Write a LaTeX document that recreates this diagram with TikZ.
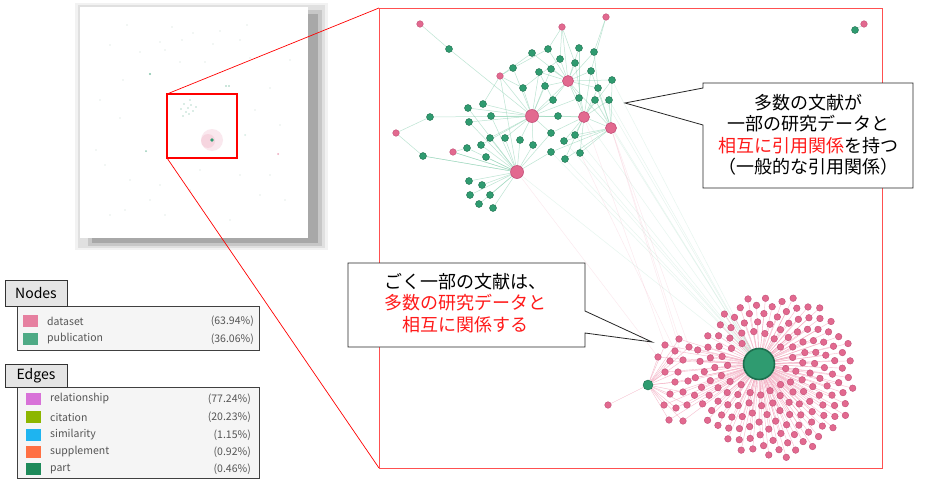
\documentclass[tikz,border=0pt]{standalone}
\usepackage{fontspec}
\setmainfont{Noto Sans CJK JP}
\definecolor{pk}{HTML}{E2698F}
\definecolor{pkd}{HTML}{C24F78}
\definecolor{gr}{HTML}{2F9B70}
\definecolor{grd}{HTML}{1E6E4E}
\definecolor{pke}{HTML}{F2A0B8}
\definecolor{gre}{HTML}{86CFAE}
\definecolor{callred}{HTML}{FF1A1A}
\definecolor{framered}{HTML}{FF5050}
\definecolor{legtext}{HTML}{555555}
\definecolor{relc}{HTML}{D872D8}
\definecolor{citc}{HTML}{8DB600}
\definecolor{simc}{HTML}{1EB4F0}
\definecolor{supc}{HTML}{FF7043}
\definecolor{partc}{HTML}{1E8A5A}
\pgfdeclarelayer{bg}
\pgfdeclarelayer{edges}
\pgfsetlayers{bg,edges,main}
\begin{document}
\begin{tikzpicture}[x=1pt,y=-1pt,
  gdot/.style={circle,fill=gr,draw=grd,line width=0.4,inner sep=0,minimum size=7},
  pdot/.style={circle,fill=pk,draw=pkd,line width=0.4,inner sep=0,minimum size=6.6},
  pbig/.style={circle,fill=pk,draw=pkd,line width=0.6,inner sep=0,minimum size=12},
  gedge/.style={draw=gre,line width=0.5,opacity=0.55},
  gfaint/.style={draw=gre,line width=0.5,opacity=0.2},
  pedge/.style={draw=pke,line width=0.4,opacity=0.7},
  tdot/.style={circle,fill=gr!50!gray,opacity=0.15,inner sep=0,minimum size=1.6},
  legtab/.style={draw=black!80,fill=black!10,line width=0.6,inner sep=0,minimum width=62,font=\fontsize{14}{16}\selectfont},
  legpanel/.style={draw=black!75,fill=black!4,line width=0.7},
  legsq/.style={inner sep=0,minimum width=15,minimum height=12},
  legitem/.style={anchor=west,inner sep=0,text=legtext,font=\fontsize{10.5}{12}\selectfont},
  legpct/.style={anchor=east,inner sep=0,text=legtext,font=\fontsize{10.5}{12}\selectfont},
  callout/.style={draw=black!85,fill=white,line width=0.8,line join=miter},
  ctext/.style={align=center,inner sep=0,font=\fontsize{18}{21.5}\selectfont}
]
\useasboundingbox (0,0) rectangle (929,479);
\begin{pgfonlayer}{bg}
\fill[white] (0,0) rectangle (929,479);
\end{pgfonlayer}

% ---------- thumbnail ----------
\fill[black!5] (75,3) rectangle (328,250);
\fill[black!12] (78,5) rectangle (325,248);
\fill[black!22] (88,10) rectangle (322,246);
\fill[black!34] (92,14) rectangle (318,243);
\fill[white] (80,7) rectangle (308,238);
\foreach \x/\y in {127/25,172/27,193/33,220/31,247/25,160/42,182/40,213/44,240/40,110/45,140/52,165/50,205/62,250/58,123/80,180/62,270/88,100/100,120/118,255/110,280/125,96/150,105/165,130/180,160/185,200/170,240/175,270/175,150/200,190/190,125/210,260/195,165/215,230/220,290/60,285/200,110/215}
  \node[tdot] at (\x,\y) {};
\fill[pk,opacity=0.15] (212,140) circle (11);
\fill[pk,opacity=0.15] (208,141) circle (7);
\foreach \x/\y in {184/104,188/108,191/105,186/112,193/111,181/109,190/100,196/107,183/116,189/114}
  \fill[gr,opacity=0.35] (\x,\y) circle (0.8);
\fill[gr] (212,140) circle (1.8);
\fill[gr,opacity=0.6] (150,74) circle (1.1);
\fill[gr,opacity=0.5] (226,86) circle (0.9);
\fill[gr,opacity=0.5] (229,86) circle (0.9);
\fill[gr,opacity=0.5] (146,151) circle (1);
\fill[pk,opacity=0.6] (278,154) circle (1);
\fill[gr,opacity=0.2] (245,135) circle (1);
\draw[red,line width=1.2] (167,94) rectangle (237,158);
\coordinate (zt) at (167,94);
\coordinate (zb) at (167,158);

% ---------- big frame ----------
\coordinate (ft) at (379,8);
\coordinate (fb) at (379,468);
\draw[red,line width=0.7] (zt) -- (ft);
\draw[red,line width=0.7] (zb) -- (fb);
\draw[framered,line width=1] (379,8) rectangle (882,468);

% ---------- green cluster ----------
\foreach \n/\x/\y in {pa/420/24,pb/562/27,pc/606/17,pd/500/76,pe/396/133,pf/453/152}
  \node[pdot] (\n) at (\x,\y) {};
\foreach \n/\x/\y/\s in {H1/532/116/13,H2/568/81/11,H3/584/117/11,H4/611/128/11,H5/517/172/13}
  \node[pbig,minimum size=\s] (\n) at (\x,\y) {};
\foreach \n/\x/\y in {g1/449/49,g2/532/53,g3/548/49,g4/579/48,g5/594/52,g6/560/59,g7/575/63,g8/513/68,g9/539/72,g10/551/69,g11/591/71,g12/612/80,g13/523/88,g14/545/86,g15/598/88,g16/579/98,g17/553/100,g18/595/100,g19/609/100,g20/483/104,g21/468/108,g22/491/116,g23/469/122,g24/430/117,g25/558/116,g26/551/133,g27/575/135,g28/490/138,g29/505/138,g30/520/140,g31/533/145,g32/564/141,g33/481/145,g34/467/148,g35/551/152,g36/580/153,g37/423/156,g38/486/157,g39/565/159,g40/469/181,g41/482/185,g42/470/195,g43/490/195,g44/479/204,g45/493/208}
  \node[gdot] (\n) at (\x,\y) {};
\node[gdot] (tg) at (855,30) {};
\node[pdot] (tp) at (864,24) {};

% ---------- pink cluster ----------
\node[circle,fill=gr,draw=grd,line width=1.6,inner sep=0,minimum size=31] (hub) at (759,364) {};
\node[gdot,minimum size=10] (sg) at (648,385) {};
\node[pdot] (lp) at (608,405) {};
\foreach \k in {1,...,176}{
  \pgfmathsetmacro\rr{6.2*sqrt(\k)}
  \pgfmathsetmacro\aa{10*mod(\k*13.7508,36)}
  \pgfmathsetmacro\px{774+\rr*cos(\aa)}
  \pgfmathsetmacro\py{376+\rr*sin(\aa)}
  \pgfmathsetmacro\dd{veclen(\px-759,\py-364)}
  \ifdim\dd pt>25pt
    \node[pdot] (s\k) at (\px,\py) {};
    \begin{pgfonlayer}{edges}\draw[pedge] (s\k) -- (hub);\end{pgfonlayer}
  \fi
}
\foreach \n/\x/\y in {f1/665/345,f2/679/339,f3/658/357,f4/675/351,f5/689/347,f6/670/361,f7/683/360,f8/665/372,f9/678/372,f10/675/382,f11/688/381,f12/670/394,f13/683/392,f14/664/405,f15/676/408,f16/687/405,f17/669/420,f18/683/421}{
  \node[pdot] (\n) at (\x,\y) {};
  \begin{pgfonlayer}{edges}\draw[pedge] (\n) -- (hub); \draw[pedge] (\n) -- (sg);\end{pgfonlayer}
}

% ---------- edges ----------
\begin{pgfonlayer}{edges}
\foreach \a/\b in {pa/g1,g1/H1,pb/g6,pb/g7,pb/H2,pb/g3,pc/g5,pc/g11,pe/g24,pe/g37,g24/H1,g37/H5,pf/g34,pf/H5,
  H1/g8,H1/g9,H1/g13,H1/g14,H1/g17,H1/g20,H1/g22,H1/g23,H1/g25,H1/g26,H1/g28,H1/g29,H1/g30,H1/g31,H1/g21,H1/pd,H1/g10,H1/g16,H1/g33,H1/H3,H1/H2,
  H2/g2,H2/g3,H2/g4,H2/g5,H2/g6,H2/g7,H2/g10,H2/g11,H2/g12,H2/g14,H2/g15,H2/g16,H2/g17,H2/g9,H2/H3,H2/H4,
  H3/g15,H3/g16,H3/g18,H3/g19,H3/g25,H3/g26,H3/g27,H3/g32,H3/g11,H3/g12,H3/g36,H3/g39,H3/H4,H3/g7,
  H4/g12,H4/g15,H4/g18,H4/g19,H4/g27,H4/g32,H4/g36,H4/g39,H4/g35,H4/g11,
  H5/g28,H5/g29,H5/g30,H5/g31,H5/g33,H5/g34,H5/g35,H5/g37,H5/g38,H5/g40,H5/g41,H5/g42,H5/g43,H5/g44,H5/g45,H5/g26,H5/pf,H5/g23,H5/g21,H5/pd,H5/g22,
  g8/pd,g20/pd,g13/pd,g2/pd,g8/g3,g4/g16,g5/g15,g6/g13,g9/g17}
  \draw[gedge] (\a) -- (\b);
\foreach \a in {H3,H4,g19,g36,g39,g27,g32,H5,g18,g12,g35,g15}
  \draw[gfaint] (\a) -- (hub);
\foreach \a/\b in {H4/f2,H4/f5,H3/f1,g36/f4,H5/f3,H4/f7}
  \draw[pedge,opacity=0.25] (\a) -- (\b);
\draw[pedge] (lp) -- (sg);
\draw[gedge] (tg) -- (tp);
\end{pgfonlayer}

% ---------- legend ----------
\draw[legpanel] (17,306) rectangle (259,350);
\node[legtab,minimum height=26] (ntab) at (36,293) {Nodes};
\node[legsq,fill=pk!85] (nsq1) at (30.5,321) {};
\node[legsq,fill=gr!85] (nsq2) at (30.5,339) {};
\node[legitem] (nl1) at (47,321) {dataset};
\node[legitem] (nl2) at (47,339) {publication};
\node[legpct] (np1) at (254,321) {(63.94\%)};
\node[legpct] (np2) at (254,339) {(36.06\%)};

\draw[legpanel] (17,387) rectangle (259,478);
\node[legtab,minimum height=23] (etab) at (36,375.5) {Edges};
\foreach \i/\y/\c/\t/\p in {1/399/relc/relationship/77.24,2/417/citc/citation/20.23,3/435/simc/similarity/1.15,4/452/supc/supplement/0.92,5/469/partc/part/0.46}{
  \node[legsq,fill=\c] (esq\i) at (33,\y) {};
  \node[legitem] (el\i) at (50,\y) {\t};
  \node[legpct] (ep\i) at (251,\y) {(\p\%)};
}

% ---------- callouts ----------
\draw[callout] (703,83) -- (913,83) -- (913,188) -- (703,188) -- (703,125) -- (625,103) -- (703,88) -- cycle;
\node[ctext] (t1) at (808,134.5) {多数の文献が\\一部の研究データと\\\textcolor{callred}{相互に引用関係}を持つ\\（一般的な引用関係）};
\draw[callout] (348,263) -- (585,263) -- (585,311) -- (652,342) -- (585,333) -- (585,347) -- (348,347) -- cycle;
\node[ctext] (t2) at (465,303) {ごく一部の文献は、\\\textcolor{callred}{多数の研究データと}\\\textcolor{callred}{相互に関係する}};
\end{tikzpicture}
\end{document}
